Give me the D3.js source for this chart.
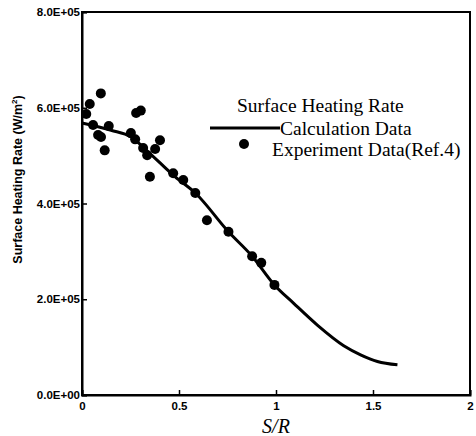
<!DOCTYPE html>
<html>
<head>
<meta charset="utf-8">
<script src="https://cdn.jsdelivr.net/npm/d3@7"></script>
<style>
  body { margin: 0; background: #fff; }
  svg { display: block; }
</style>
</head>
<body>
<svg id="chart" width="476" height="436"></svg>
<script>
// values (y in W/m^2)
const xTicks = [0, 0.5, 1, 1.5, 2];
const xTickLabels = ['0', '0.5', '1', '1.5', '2'];
const yTicks = [0, 2e5, 4e5, 6e5, 8e5];
const yTickLabels = ['0.0E+00', '2.0E+05', '4.0E+05', '6.0E+05', '8.0E+05'];

// calculation curve
const calcS = [0, 0.15, 0.253, 0.341, 0.479, 0.584, 0.755, 0.877, 0.992, 1.09, 1.213, 1.349, 1.436, 1.523, 1.626];
const calcQ = [5.68e5, 5.53e5, 5.39e5, 5.08e5, 4.56e5, 4.22e5, 3.41e5, 2.90e5, 2.30e5, 1.92e5, 1.46e5, 1.03e5, 0.84e5, 0.70e5, 0.63e5];

// experiment points (Ref.4)
const expS = [0.022, 0.04, 0.097, 0.057, 0.083, 0.098, 0.138, 0.117, 0.279, 0.303, 0.252, 0.274, 0.402,
  0.315, 0.336, 0.377, 0.35, 0.47, 0.522, 0.584, 0.644, 0.755, 0.877, 0.924, 0.992];
const expQ = [5.87e5, 6.08e5, 6.30e5, 5.64e5, 5.43e5, 5.39e5, 5.62e5, 5.11e5, 5.89e5, 5.94e5, 5.47e5, 5.34e5, 5.32e5,
  5.16e5, 5.01e5, 5.14e5, 4.56e5, 4.63e5, 4.49e5, 4.22e5, 3.65e5, 3.41e5, 2.90e5, 2.76e5, 2.30e5];

const width = 476, height = 436;
const margin = { top: 12, right: 6, bottom: 41, left: 82 };

const svg = d3.select('#chart');

const x = d3.scaleLinear().domain([0, 2]).range([margin.left, width - margin.right]);
const y = d3.scaleLinear().domain([0, 8e5]).range([height - margin.bottom, margin.top]);

// frame
svg.append('rect')
  .attr('x', x(0)).attr('y', y(8e5))
  .attr('width', x(2) - x(0)).attr('height', y(0) - y(8e5))
  .attr('fill', 'none').attr('stroke', '#000').attr('stroke-width', 2);

// axes, ticks pointing inward
const xAxis = svg.append('g')
  .attr('transform', `translate(0,${y(0)})`)
  .call(d3.axisBottom(x).tickValues(xTicks).tickSize(-5).tickPadding(7)
    .tickFormat((d, i) => xTickLabels[i]));
const yAxis = svg.append('g')
  .attr('transform', `translate(${x(0)},0)`)
  .call(d3.axisLeft(y).tickValues(yTicks).tickSize(-5).tickPadding(2)
    .tickFormat((d, i) => yTickLabels[i]));

[xAxis, yAxis].forEach(g => {
  g.select('.domain').attr('stroke', '#000').attr('stroke-width', 2);
  g.selectAll('.tick line').attr('stroke', '#000').attr('stroke-width', 1.5);
  g.selectAll('text')
    .attr('fill', '#000')
    .style('font-family', '"Liberation Sans", Arial, sans-serif')
    .style('font-weight', 'bold')
    .style('font-size', '11.5px');
});

// axis titles
svg.append('text')
  .attr('x', x(1)).attr('y', 433)
  .attr('text-anchor', 'middle')
  .style('font-family', '"Liberation Serif", "Times New Roman", serif')
  .style('font-style', 'italic')
  .style('font-size', '20px')
  .text('S/R');

const yTitle = svg.append('text')
  .attr('transform', `translate(22,${(y(0) + y(8e5)) / 2 - 24}) rotate(-90)`)
  .attr('text-anchor', 'middle')
  .style('font-family', '"Liberation Sans", Arial, sans-serif')
  .style('font-weight', 'bold')
  .style('font-size', '12.5px');
yTitle.append('tspan').text('Surface Heating Rate (W/m');
yTitle.append('tspan').attr('dy', -5).style('font-size', '8px').text('2');
yTitle.append('tspan').attr('dy', 5).text(')');

// calculation line
const line = d3.line()
  .x((d, i) => x(calcS[i]))
  .y((d, i) => y(calcQ[i]))
  .curve(d3.curveMonotoneX);

svg.append('path')
  .datum(calcS)
  .attr('d', line)
  .attr('fill', 'none')
  .attr('stroke', '#000')
  .attr('stroke-width', 3);

// experiment points
svg.append('g')
  .selectAll('circle')
  .data(expS)
  .join('circle')
  .attr('cx', (d, i) => x(d))
  .attr('cy', (d, i) => y(expQ[i]))
  .attr('r', 5)
  .attr('fill', '#000');

// legend
const legend = svg.append('g')
  .style('font-family', '"Liberation Serif", "Times New Roman", serif')
  .style('font-size', '19.5px');
legend.append('text').attr('x', 237).attr('y', 112).text('Surface Heating Rate');
legend.append('line')
  .attr('x1', 210).attr('x2', 280).attr('y1', 128).attr('y2', 128)
  .attr('stroke', '#000').attr('stroke-width', 3);
legend.append('text').attr('x', 280).attr('y', 135).text('Calculation Data');
legend.append('circle').attr('cx', 244).attr('cy', 144).attr('r', 5).attr('fill', '#000');
legend.append('text').attr('x', 272).attr('y', 156).text('Experiment Data(Ref.4)');
</script>
</body>
</html>
